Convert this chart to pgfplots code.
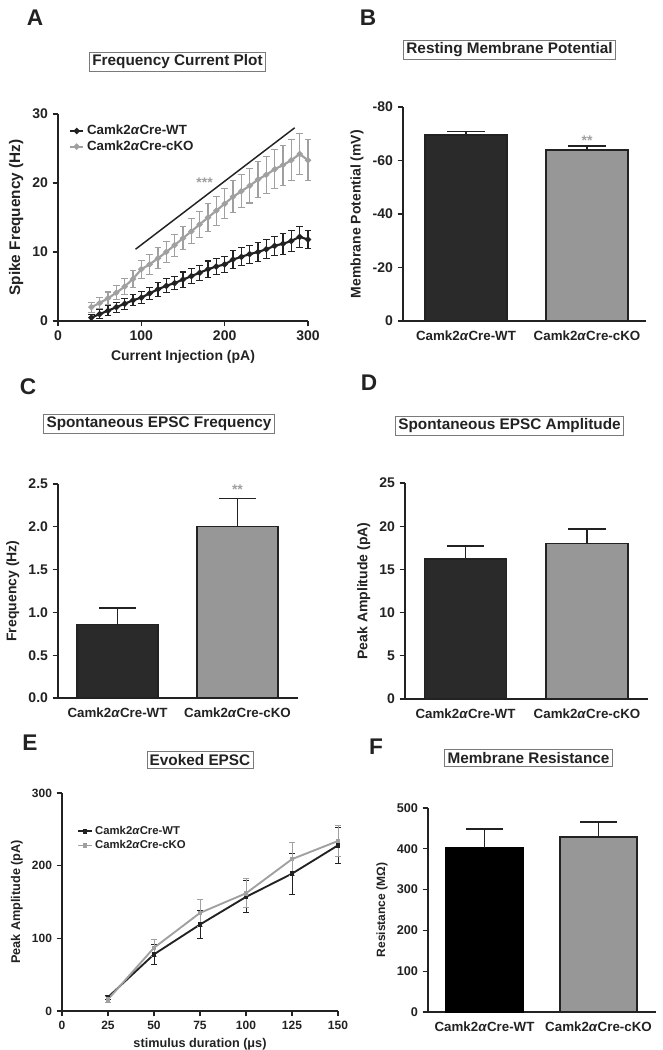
\documentclass[border=0pt]{standalone}
\usepackage{pgfplots}
\pgfplotsset{compat=1.18}
\usepackage{pgfplotstable}
\usepackage{fontspec}
\setmainfont{Liberation Sans}
\definecolor{ink}{HTML}{222222}
\definecolor{wtbar}{HTML}{2A2A2A}
\definecolor{kobar}{HTML}{979797}
\definecolor{kol}{HTML}{A0A0A0}
\definecolor{boxc}{HTML}{7A7A7A}
\newcommand{\ca}{Camk2\textit{α}Cre}

\pgfplotstableread{
x wt wte ko koe
40 0.5 0.5 2.0 0.7
50 1.0 0.6 2.6 0.8
60 1.5 0.7 3.3 0.9
70 2.0 0.7 4.1 1.0
80 2.5 0.8 5.0 1.1
90 3.0 0.8 6.1 1.2
100 3.4 0.9 7.5 1.3
110 4.0 0.9 8.2 1.4
120 4.6 1.0 9.1 1.5
130 5.1 1.0 10.0 1.5
140 5.5 1.0 11.0 1.6
150 6.0 1.1 12.0 1.7
160 6.5 1.1 13.0 1.8
170 7.0 1.1 14.0 1.9
180 7.5 1.2 15.0 2.0
190 7.9 1.2 16.0 2.1
200 8.2 1.2 17.0 2.2
210 8.9 1.3 18.0 2.3
220 9.3 1.3 18.8 2.4
230 9.7 1.3 19.6 2.5
240 10.0 1.4 20.5 2.6
250 10.4 1.4 21.2 2.7
260 10.9 1.4 22.0 2.8
270 11.2 1.5 22.6 2.9
280 11.6 1.5 23.3 3.0
290 12.2 1.5 24.2 3.0
300 11.8 1.3 23.3 3.0
}\dataA

\pgfplotstableread{
x wt wte ko koe
25 19 3 16 4
50 78 14 87 12
75 119 19 135 19
100 157 22 162 20
125 189 28 209 23
150 228 25 234 22
}\dataE

\pgfplotsset{
  prism/.style={
    scale only axis, clip=false,
    axis x line*=bottom, axis y line*=left,
    axis line style={ink, line width=1.1pt, -},
    every tick/.style={ink, line width=1pt},
    tick align=outside, major tick length=4pt,
    tick label style={font=\fontsize{10.5}{12}\selectfont\bfseries, text=ink},
    label style={font=\fontsize{10.5}{12}\selectfont\bfseries, text=ink},
    /pgf/number format/assume math mode=true,
    legend cell align=left,
  },
  barax/.style={prism, ybar, bar shift=0pt, major x tick style={draw=none},
    x tick label style={font=\fontsize{10}{12}\selectfont\bfseries}},
  barerr/.style={error bars/.cd, y explicit, y dir=#1,
     error bar style={ink, line width=1.1pt},
     error mark options={ink, rotate=90, mark size=14pt, line width=1.1pt}},
  wtb/.style={fill=wtbar, draw=ink, line width=0.9pt},
  kob/.style={fill=kobar, draw=ink, line width=0.9pt},
}
\tikzset{
  ttl/.style={draw=boxc, line width=0.6pt, inner sep=2pt, font=\fontsize{11.5}{13}\selectfont\bfseries, text=ink},
  plet/.style={font=\fontsize{17}{20}\selectfont\bfseries, text=ink},
}

\begin{document}
\begin{tikzpicture}[x=0.75pt, y=-0.75pt]
\useasboundingbox (0,0) rectangle (662,1050);

% ---------------- Panel A ----------------
\node[plet] at (35,18) {A};
\node[ttl] at (177.5,62) {Frequency Current Plot};
\begin{axis}[prism, at={(43.5pt,-240.75pt)}, anchor=south west,
  width=187.5pt, height=155.25pt,
  xmin=0, xmax=300, ymin=0, ymax=30,
  xtick={0,100,200,300}, ytick={0,10,20,30},
  xlabel={Current Injection (pA)}, ylabel={Spike Frequency (Hz)},
  ylabel style={font=\fontsize{11.5}{13}\selectfont\bfseries},
  legend style={at={(axis cs:8,29.2)}, anchor=north west, draw=none, fill=none,
    font=\fontsize{10}{11}\selectfont\bfseries, text=ink, row sep=-1pt},
  legend image code/.code={\draw[mark repeat=2,mark phase=2,#1] plot coordinates {(0pt,0pt) (5pt,0pt) (10pt,0pt)};},
]
\addplot[ink, line width=1.6pt, mark=*, mark size=1.4pt,
  error bars/.cd, y dir=both, y explicit,
  error bar style={ink, line width=0.8pt},
  error mark options={ink, rotate=90, mark size=2.6pt, line width=0.8pt}]
  table[x=x, y=wt, y error=wte] {\dataA};
\addlegendentry{\ca-WT}
\addplot[kol, line width=1.6pt, mark=*, mark size=1.4pt,
  error bars/.cd, y dir=both, y explicit,
  error bar style={kol, line width=0.8pt},
  error mark options={kol, rotate=90, mark size=2.6pt, line width=0.8pt}]
  table[x=x, y=ko, y error=koe] {\dataA};
\addlegendentry{\ca-cKO}
\addplot[ink, line width=1.1pt, forget plot] coordinates {(93,10.4) (284,28.0)};
\node[text=kol, font=\fontsize{10.5}{11}\selectfont\bfseries] at (axis cs:176,20.0) {***};
\end{axis}

% ---------------- Panel B ----------------
\node[plet] at (368,18) {B};
\node[ttl] at (509.5,50) {Resting Membrane Potential};
\begin{axis}[barax, at={(302.25pt,-240.75pt)}, anchor=south west,
  width=182.25pt, height=160.5pt,
  xmin=0, xmax=243, ymin=-80, ymax=0, y dir=reverse,
  bar width=61.5pt,
  xtick={63,184}, xticklabels={\ca-WT, \ca-cKO},
  ytick={-80,-60,-40,-20,0},
  ylabel={Membrane Potential (mV)},
]
\addplot[wtb, barerr=minus] coordinates {(63,-69.5) +- (0,1.3)};
\addplot[kob, barerr=minus] coordinates {(184,-63.9) +- (0,1.6)};
\node[text=kol, font=\fontsize{10.5}{11}\selectfont\bfseries] at (axis cs:184,-67.5) {**};
\end{axis}

% ---------------- Panel C ----------------
\node[plet] at (28,387) {C};
\node[ttl] at (159,424) {Spontaneous EPSC Frequency};
\begin{axis}[barax, at={(43.5pt,-523.5pt)}, anchor=south west,
  width=180pt, height=160.5pt,
  xmin=0, xmax=240, ymin=0, ymax=2.5,
  bar width=60.75pt,
  xtick={59.5,179.5}, xticklabels={\ca-WT, \ca-cKO},
  ytick={0,0.5,1,1.5,2,2.5},
  yticklabel style={/pgf/number format/.cd, fixed, fixed zerofill, precision=1},
  ylabel={Frequency (Hz)},
]
\addplot[wtb, barerr=plus] coordinates {(59.5,0.86) +- (0,0.19)};
\addplot[kob, barerr=plus] coordinates {(179.5,2.0) +- (0,0.33)};
\node[text=kol, font=\fontsize{10.5}{11}\selectfont\bfseries] at (axis cs:179.5,2.43) {**};
\end{axis}

% ---------------- Panel D ----------------
\node[plet] at (369,383) {D};
\node[ttl] at (509.5,426) {Spontaneous EPSC Amplitude};
\begin{axis}[barax, at={(303.75pt,-524.25pt)}, anchor=south west,
  width=182.25pt, height=162pt,
  xmin=0, xmax=243, ymin=0, ymax=25,
  bar width=61.5pt,
  xtick={60.5,182}, xticklabels={\ca-WT, \ca-cKO},
  ytick={0,5,10,15,20,25},
  ylabel={Peak Amplitude (pA)},
]
\addplot[wtb, barerr=plus] coordinates {(60.5,16.2) +- (0,1.5)};
\addplot[kob, barerr=plus] coordinates {(182,18.0) +- (0,1.7)};
\end{axis}

% ---------------- Panel E ----------------
\node[plet] at (30,743) {E};
\node[ttl] at (200,760) {Evoked EPSC};
\begin{axis}[prism, at={(46.5pt,-758.25pt)}, anchor=south west,
  width=207pt, height=163.5pt,
  xmin=0, xmax=150, ymin=0, ymax=300,
  xtick={0,25,50,75,100,125,150}, ytick={0,100,200,300},
  xlabel={stimulus duration (μs)}, ylabel={Peak Amplitude (pA)},
  tick label style={font=\fontsize{9}{10}\selectfont\bfseries},
  label style={font=\fontsize{9.5}{11}\selectfont\bfseries},
  legend style={at={(axis cs:6,262)}, anchor=north west, draw=none, fill=none,
    font=\fontsize{8.5}{10}\selectfont\bfseries, text=ink, row sep=-1pt},
  legend image code/.code={\draw[mark repeat=2,mark phase=2,#1] plot coordinates {(0pt,0pt) (5pt,0pt) (10pt,0pt)};},
]
\addplot[ink, line width=1.4pt, mark=square*, mark size=1.0pt,
  error bars/.cd, y dir=both, y explicit,
  error bar style={ink, line width=0.7pt},
  error mark options={ink, rotate=90, mark size=2.2pt, line width=0.7pt}]
  table[x=x, y=wt, y error=wte] {\dataE};
\addlegendentry{\ca-WT}
\addplot[kol, line width=1.4pt, mark=square*, mark size=1.0pt,
  error bars/.cd, y dir=both, y explicit,
  error bar style={kol, line width=0.7pt},
  error mark options={kol, rotate=90, mark size=2.2pt, line width=0.7pt}]
  table[x=x, y=ko, y error=koe] {\dataE};
\addlegendentry{\ca-cKO}
\end{axis}

% ---------------- Panel F ----------------
\node[plet] at (376,747) {F};
\node[ttl] at (528.5,758) {Membrane Resistance};
\begin{axis}[barax, at={(321pt,-759pt)}, anchor=south west,
  width=171pt, height=153pt,
  xmin=0, xmax=228, ymin=0, ymax=500,
  bar width=57.75pt,
  xtick={56.5,170.5}, xticklabels={\ca-WT, \ca-cKO},
  ytick={0,100,200,300,400,500},
  tick label style={font=\fontsize{9.5}{10}\selectfont\bfseries},
  label style={font=\fontsize{9}{10}\selectfont\bfseries},
  ylabel={Resistance (MΩ)},
]
\addplot[fill=black, draw=black, line width=0.9pt, barerr=plus] coordinates {(56.5,402) +- (0,47)};
\addplot[kob, barerr=plus] coordinates {(170.5,429) +- (0,37)};
\end{axis}
\end{tikzpicture}
\end{document}
